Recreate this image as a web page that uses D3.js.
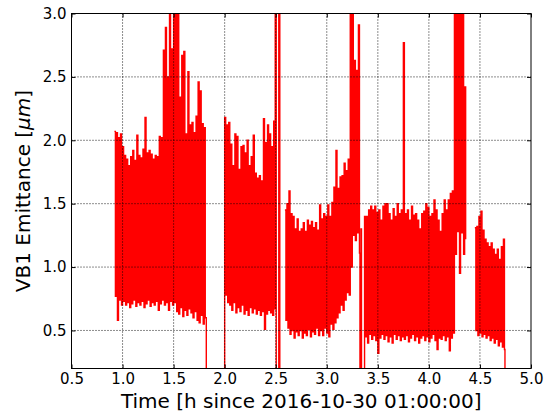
<!DOCTYPE html>
<html><head><meta charset="utf-8">
<script src="https://cdn.jsdelivr.net/npm/d3@7"></script>
<style>
body{margin:0;background:#fff}
svg{display:block}
text{font-family:"DejaVu Sans",sans-serif;fill:#000}
</style>
</head><body>
<svg id="chart" width="552" height="419"></svg>
<script>
// ---- data ----
const xTicks = [0.5, 1.0, 1.5, 2.0, 2.5, 3.0, 3.5, 4.0, 4.5, 5.0];
const yTicks = [0.5, 1.0, 1.5, 2.0, 2.5, 3.0];
const xDomain = [0.5, 5.0];
const yDomain = [0.2, 3.0];
const xLabel = "Time [h since 2016-10-30 01:00:00]";
const yLabelPre = "VB1 Emittance [";
const yLabelUnit = "\u03bcm";
const yLabelPost = "]";

// each sample window: time [h], first reading and second reading [um]
const sampleTime = [
  0.92,0.94,0.96,0.98,1.00,1.02,1.04,1.06,1.08,1.10,1.12,1.14,1.16,1.18,1.20,1.22,1.24,1.26,1.28,1.30,
  1.32,1.34,1.36,1.38,1.40,1.42,1.44,1.46,1.48,1.50,1.52,1.54,1.56,1.58,1.60,1.62,1.64,1.66,1.68,1.70,
  1.72,1.74,1.76,1.78,1.80,
  1.82,1.98,
  2.00,2.02,2.04,2.06,2.08,2.10,2.12,2.14,2.16,2.18,2.20,2.22,2.24,2.26,2.28,2.30,2.32,2.34,2.36,2.38,
  2.40,2.42,2.44,2.46,2.48,
  2.495,2.53,2.56,
  2.59,2.61,2.63,2.65,2.67,2.69,2.71,2.73,2.75,2.77,2.79,2.81,2.83,2.85,2.87,2.89,2.91,2.93,2.95,2.97,
  2.99,3.01,3.03,3.05,3.07,3.09,3.11,3.13,3.15,3.17,3.19,3.21,3.23,3.25,3.27,3.29,3.31,
  3.325,3.34,
  3.37,3.39,3.41,3.43,3.45,3.47,3.49,3.51,3.53,3.55,3.57,3.59,3.61,3.63,3.65,3.67,3.69,3.71,3.73,3.75,
  3.77,3.79,3.81,3.83,3.85,3.87,3.89,3.91,3.93,3.95,3.97,3.99,4.01,4.03,4.05,4.07,4.09,4.11,4.13,4.15,
  4.17,4.19,4.21,4.23,4.25,4.27,4.29,4.31,4.33,4.35,
  4.40,
  4.45,4.47,4.49,4.51,4.53,4.55,4.57,4.59,4.61,4.63,4.65,4.67,4.69,4.71,4.73,
  4.745
];
const emitFirst = [
  2.07,2.06,2.02,2.05,1.95,1.88,1.85,1.80,1.87,1.92,1.84,2.04,1.88,1.86,1.93,2.18,1.90,1.92,1.89,1.85,
  1.88,1.87,2.03,2.02,2.71,2.89,2.50,3.10,2.72,3.10,3.10,3.10,2.34,2.67,2.70,2.05,2.54,2.12,2.14,2.06,
  2.19,2.46,2.39,2.13,2.10,
  0,0,
  2.18,2.12,2.14,1.97,1.80,2.05,2.03,1.77,1.95,1.96,1.90,2.00,1.80,1.87,2.04,1.74,1.70,1.72,1.68,2.17,
  1.98,2.12,2.05,1.95,2.15,
  3.50,3.50,null,
  1.45,1.50,1.60,1.42,1.40,1.30,1.38,1.28,1.30,1.35,1.28,1.37,1.33,1.36,1.31,1.35,1.29,1.49,1.38,1.42,
  1.40,1.49,1.40,1.51,1.63,1.92,1.62,1.71,1.72,1.82,1.76,1.85,3.10,3.10,2.63,2.55,2.91,
  0,0,
  1.40,1.40,1.45,1.48,1.45,1.48,1.43,1.45,1.37,1.48,1.50,1.50,1.42,1.37,1.46,1.40,1.50,1.42,1.45,2.77,
  1.42,1.45,1.37,1.48,1.41,1.42,1.37,1.30,1.42,1.44,1.50,1.47,1.40,1.42,1.53,1.45,1.37,1.28,1.42,1.53,
  1.45,1.53,1.58,1.60,3.10,3.10,3.10,3.10,3.10,2.42,
  null,
  1.31,1.32,1.40,1.44,1.29,1.22,1.19,1.16,1.19,1.14,1.10,1.14,1.06,1.16,1.22,
  0
];
const emitSecond = [
  0.77,0.58,0.74,0.70,0.73,0.70,0.72,0.68,0.71,0.74,0.69,0.72,0.70,0.73,0.68,0.71,0.74,0.69,0.72,0.70,
  0.73,0.66,0.71,0.74,0.70,0.72,0.66,0.73,0.70,0.72,0.65,0.63,0.68,0.61,0.66,0.62,0.67,0.64,0.60,0.65,
  0.58,0.56,0.62,0.55,0.60,
  0,0,
  0.78,0.72,0.70,0.66,0.72,0.64,0.68,0.65,0.70,0.63,0.66,0.62,0.68,0.64,0.67,0.63,0.66,0.62,0.65,0.51,
  0.63,0.66,0.64,0.62,0.67,
  0,0,null,
  0.58,0.52,0.47,0.50,0.44,0.49,0.46,0.50,0.44,0.48,0.46,0.51,0.45,0.49,0.47,0.52,0.46,0.50,0.46,0.52,
  0.48,0.45,0.55,0.51,0.56,0.60,0.64,0.70,0.66,0.74,0.80,0.78,1.00,1.25,1.21,1.27,1.11,
  1.30,0,
  0.45,0.40,0.47,0.43,0.46,0.42,0.32,0.44,0.47,0.43,0.46,0.41,0.45,0.40,0.47,0.43,0.46,0.42,0.45,0.43,
  0.46,0.41,0.44,0.47,0.42,0.45,0.40,0.44,0.46,0.42,0.45,0.41,0.44,0.47,0.42,0.35,0.44,0.43,0.46,0.42,
  0.45,0.34,0.44,0.48,1.10,1.28,0.95,1.27,1.10,1.22,
  null,
  0.50,0.46,0.48,0.45,0.47,0.44,0.46,0.42,0.44,0.40,0.43,0.38,0.41,0.37,0.35,
  0
];

// ---- layout ----
const W = 552, H = 419;
const m = {left: 71.5, top: 13.5, right: 21, bottom: 50.5};
const iw = W - m.left - m.right, ih = H - m.top - m.bottom;

const svg = d3.select("#chart");
const g = svg.append("g").attr("transform", `translate(${m.left},${m.top})`);

const x = d3.scaleLinear().domain(xDomain).range([0, iw]);
const y = d3.scaleLinear().domain(yDomain).range([ih, 0]);

// points: each window gives its first reading, then its second a moment later
const pts = [];
sampleTime.forEach((t, i) => {
  if (emitFirst[i] == null) { pts.push({t, v: null}); return; }
  pts.push({t, v: emitFirst[i]});
  pts.push({t: t + 0.01, v: emitSecond[i]});
});

// clip + data line
svg.append("defs").append("clipPath").attr("id", "clip")
  .append("rect").attr("x", 0).attr("y", 0).attr("width", iw).attr("height", ih);

const line = d3.line().defined(d => d.v != null)
  .x(d => x(d.t)).y(d => y(d.v)).curve(d3.curveStepAfter);
g.append("path").datum(pts)
  .attr("clip-path", "url(#clip)")
  .attr("fill", "none").attr("stroke", "#ff0000").attr("stroke-width", 1.4)
  .attr("d", line);

// grid (drawn over the data, as in the reference)
const grid = g.append("g");
grid.selectAll("line.gx").data(xTicks.slice(1, -1)).join("line")
  .attr("x1", d => x(d)).attr("x2", d => x(d)).attr("y1", 0).attr("y2", ih)
  .attr("stroke", "#000").attr("stroke-width", 0.9).attr("stroke-dasharray", "1,2");
grid.selectAll("line.gy").data(yTicks.slice(0, -1)).join("line")
  .attr("x1", 0).attr("x2", iw).attr("y1", d => y(d)).attr("y2", d => y(d))
  .attr("stroke", "#000").attr("stroke-width", 0.9).attr("stroke-dasharray", "1,2");

// axes
const fmt = d3.format(".1f");
const ax = g.append("g").attr("transform", `translate(0,${ih})`)
  .call(d3.axisBottom(x).tickValues(xTicks).tickFormat(fmt).tickSize(-4).tickPadding(5));
const ay = g.append("g")
  .call(d3.axisLeft(y).tickValues(yTicks).tickFormat(fmt).tickSize(-4).tickPadding(5));
const axt = g.append("g")
  .call(d3.axisTop(x).tickValues(xTicks).tickFormat("").tickSize(-4));
const ayr = g.append("g").attr("transform", `translate(${iw},0)`)
  .call(d3.axisRight(y).tickValues(yTicks).tickFormat("").tickSize(-4));
[ax, ay, axt, ayr].forEach(a => {
  a.select(".domain").remove();
  a.selectAll("line").attr("stroke", "#000").attr("stroke-width", 1);
  a.selectAll("text").style("font-size", "15px").style("font-family", '"DejaVu Sans",sans-serif').attr("fill", "#000");
});

// frame
g.append("rect").attr("x", 0).attr("y", 0).attr("width", iw).attr("height", ih)
  .attr("fill", "none").attr("stroke", "#000").attr("stroke-width", 1);

// labels
svg.append("text").attr("x", m.left + iw / 2).attr("y", 408)
  .attr("text-anchor", "middle").style("font-size", "20px").text(xLabel);

const yl = svg.append("text")
  .attr("transform", `translate(30,${m.top + ih / 2}) rotate(-90)`)
  .attr("text-anchor", "middle").style("font-size", "20px");
yl.append("tspan").text(yLabelPre);
yl.append("tspan").style("font-style", "italic").text(yLabelUnit);
yl.append("tspan").text(yLabelPost);
</script>
</body></html>
